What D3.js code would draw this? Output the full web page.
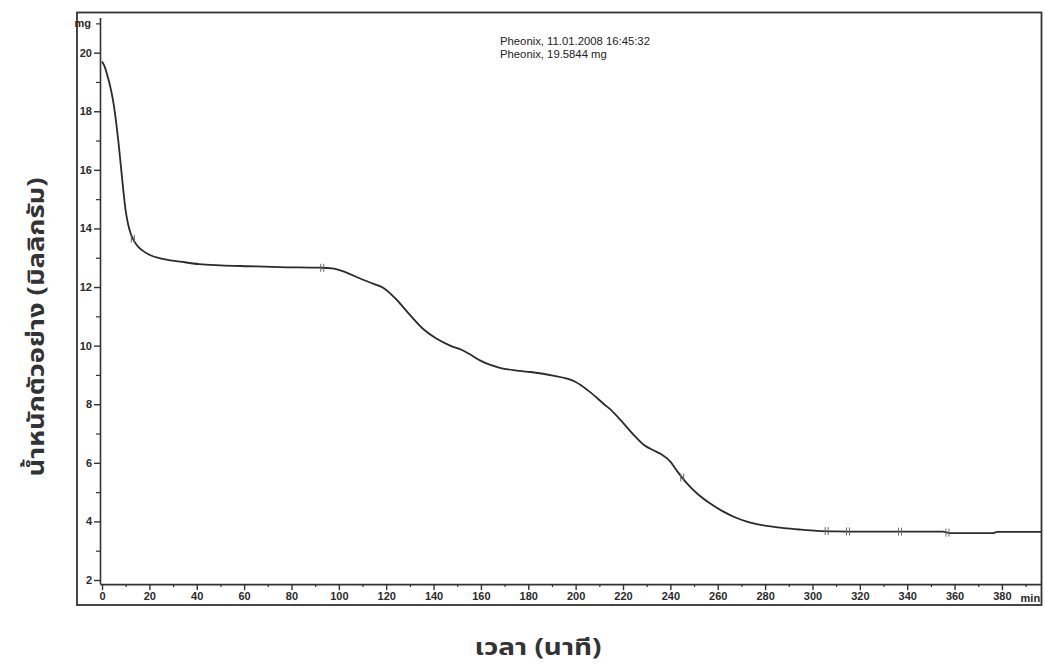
<!DOCTYPE html>
<html>
<head>
<meta charset="utf-8">
<script src="https://cdn.jsdelivr.net/npm/d3@7"></script>
<style>
  html, body { margin: 0; padding: 0; background: #fff; }
  svg { display: block; }
  .tick text { font-family: "Liberation Sans", Arial, sans-serif; font-size: 11px; font-weight: bold; fill: #2a2a2a; }
  .thai { font-family: "Noto Sans Thai", "Noto Sans", "Loma", sans-serif; font-weight: bold; fill: #333; }
</style>
</head>
<body>
<script>
// ---- data ----
const timeMin = [0,1,2,3,4,5,6,7,8,9,10,11,12,13,15,17,20,25,33,41,50,62,75,92,97,103,109,115,119,124,130,136,141,147,152,155,160,164,168,175,181,191,196,200,206,212,215,219,224,229,233,236,240,243,247,252,257,262,267,272,277,283,288,295,302,310,320,337,355,358,376,378,396.5];
const massMg  = [19.7,19.55,19.3,19.0,18.65,18.2,17.6,16.9,16.1,15.3,14.6,14.15,13.85,13.65,13.4,13.25,13.1,12.97,12.87,12.78,12.74,12.71,12.68,12.66,12.64,12.5,12.29,12.1,11.96,11.6,11.05,10.54,10.25,10.0,9.85,9.72,9.48,9.34,9.24,9.15,9.1,8.97,8.88,8.76,8.42,8.0,7.8,7.46,7.0,6.6,6.42,6.3,6.04,5.7,5.3,4.9,4.6,4.35,4.15,4.0,3.9,3.82,3.77,3.72,3.68,3.66,3.65,3.65,3.65,3.6,3.6,3.64,3.64];
const markerTimes = [13, 93, 245, 306, 315, 337, 357];
const xTickValues = [0,20,40,60,80,100,120,140,160,180,200,220,240,260,280,300,320,340,360,380];
const xMinorValues = [10,30,50,70,90,110,130,150,170,190,210,230,250,270,290,310,330,350,370,390];
const yTickValues = [2,4,6,8,10,12,14,16,18,20];
const yMinorValues = [3,5,7,9,11,13,15,17,19,21];
const xUnitLabel = "min";
const yUnitLabel = "mg";
const infoLines = ["Pheonix, 11.01.2008 16:45:32", "Pheonix, 19.5844 mg"];
const xTitle = "เวลา (นาที)";
const yTitle = "น้ำหนักตัวอย่าง (มิลลิกรัม)";

const W = 1045, H = 664;
const svg = d3.select("body").append("svg").attr("width", W).attr("height", H);

// frame
svg.append("rect").attr("x", 77).attr("y", 12.5).attr("width", 964.5).attr("height", 592.5)
  .attr("fill", "none").attr("stroke", "#333").attr("stroke-width", 1.8);

const x = d3.scaleLinear().domain([-0.85, 396.5]).range([100, 1041]);
const y = d3.scaleLinear().domain([1.86, 21.2]).range([584.1, 17.5]);

const ink = "#333";

// x axis
const gx = svg.append("g").attr("transform", `translate(0,${y(1.86)})`)
  .call(d3.axisBottom(x).tickValues(xTickValues).tickSize(6).tickPadding(2).tickSizeOuter(0).tickFormat(d3.format("d")));
gx.select(".domain").attr("stroke", ink).attr("stroke-width", 1.6);
gx.selectAll(".tick line").attr("stroke", ink).attr("stroke-width", 1.4);
svg.append("g").attr("transform", `translate(0,${y(1.86)})`)
  .call(d3.axisBottom(x).tickValues(xMinorValues).tickSize(3).tickFormat(""))
  .call(g => g.select(".domain").remove())
  .selectAll(".tick line").attr("stroke", ink).attr("stroke-width", 1.2);
svg.append("text").attr("x", x(392)).attr("y", y(1.86) + 18)
  .attr("text-anchor", "middle").attr("font-family", "Liberation Sans, Arial, sans-serif")
  .attr("font-size", 11).attr("font-weight", "bold").attr("fill", "#2a2a2a").text(xUnitLabel);

// y axis
const gy = svg.append("g").attr("transform", `translate(100,0)`)
  .call(d3.axisLeft(y).tickValues(yTickValues).tickSize(6).tickPadding(2).tickSizeOuter(0).tickFormat(d3.format("d")));
gy.select(".domain").attr("stroke", ink).attr("stroke-width", 1.6);
gy.selectAll(".tick line").attr("stroke", ink).attr("stroke-width", 1.4);
svg.append("g").attr("transform", `translate(100,0)`)
  .call(d3.axisLeft(y).tickValues(yMinorValues).tickSize(4).tickFormat(""))
  .call(g => g.select(".domain").remove())
  .selectAll(".tick line").attr("stroke", ink).attr("stroke-width", 1.2);
svg.append("text").attr("x", 91).attr("y", y(21) + 4)
  .attr("text-anchor", "end").attr("font-family", "Liberation Sans, Arial, sans-serif")
  .attr("font-size", 11).attr("font-weight", "bold").attr("fill", "#2a2a2a").text(yUnitLabel);

// curve
const pts = timeMin.map((t, i) => [t, massMg[i]]);
const line = d3.line().x(d => x(d[0])).y(d => y(d[1])).curve(d3.curveMonotoneX);
svg.append("path").datum(pts).attr("d", line)
  .attr("fill", "none").attr("stroke", "#2b2b2b").attr("stroke-width", 1.8);

// small step markers on the curve
const interp = t => {
  const i = d3.bisectLeft(timeMin, t);
  if (i <= 0) return massMg[0];
  const t0 = timeMin[i-1], t1 = timeMin[i];
  return massMg[i-1] + (massMg[i] - massMg[i-1]) * (t - t0) / (t1 - t0);
};
const mk = svg.append("g").attr("stroke", "#666").attr("stroke-width", 1);
markerTimes.forEach(t => {
  const cx = x(t), cy = y(interp(t));
  mk.append("line").attr("x1", cx - 1.5).attr("x2", cx - 1.5).attr("y1", cy - 4).attr("y2", cy + 4);
  mk.append("line").attr("x1", cx + 1.5).attr("x2", cx + 1.5).attr("y1", cy - 4).attr("y2", cy + 4);
});

// info text
svg.selectAll("text.info").data(infoLines).enter().append("text")
  .attr("class", "info").attr("x", 500).attr("y", (d, i) => 44.5 + i * 13.5)
  .attr("font-family", "Liberation Sans, Arial, sans-serif").attr("font-size", 11.3)
  .attr("fill", "#222").text(d => d);

// titles
svg.append("text").attr("class", "thai").attr("x", 538).attr("y", 655)
  .attr("text-anchor", "middle").attr("font-size", 23)
  .attr("textLength", 127).attr("lengthAdjust", "spacingAndGlyphs").text(xTitle);
svg.append("text").attr("class", "thai").attr("transform", "translate(44,327) rotate(-90)")
  .attr("text-anchor", "middle").attr("font-size", 23)
  .attr("textLength", 299).attr("lengthAdjust", "spacingAndGlyphs").text(yTitle);
</script>
</body>
</html>
